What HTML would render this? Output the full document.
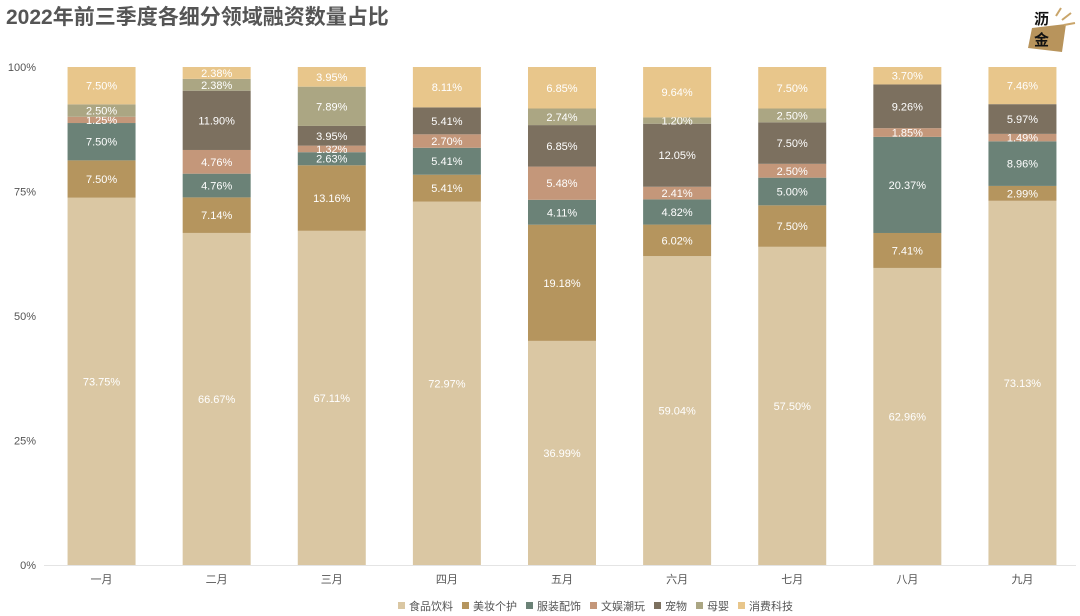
<!DOCTYPE html>
<html><head><meta charset="utf-8"><style>
body{margin:0;background:#fff;font-family:"Liberation Sans","Noto Sans CJK SC",sans-serif;}
#wrap{position:relative;width:1080px;height:616px;overflow:hidden}
</style></head><body>
<div id="wrap">
<svg id="chart" width="1080" height="616" xmlns="http://www.w3.org/2000/svg">
<text x="6" y="24" font-size="21" font-weight="bold" fill="#555" font-family="Liberation Sans,Noto Sans CJK SC,sans-serif">2022年前三季度各细分领域融资数量占比</text>
<g>
<polygon points="1032,28 1066,24 1062,52 1028,48" fill="#b8945c"/>
<line x1="1056" y1="16" x2="1061" y2="8" stroke="#c9a56a" stroke-width="2"/>
<line x1="1062" y1="20" x2="1071" y2="13" stroke="#c9a56a" stroke-width="2"/>
<line x1="1064" y1="25" x2="1075" y2="23" stroke="#c9a56a" stroke-width="2"/>
<text x="1034" y="24" font-size="15" font-weight="bold" fill="#111" font-family="Noto Sans CJK SC,sans-serif">沥</text>
<text x="1034" y="45" font-size="15" font-weight="bold" fill="#111" font-family="Noto Sans CJK SC,sans-serif">金</text>
</g>
</svg>
</div>
<script>
const categories=["一月","二月","三月","四月","五月","六月","七月","八月","九月"];
const seriesNames=["食品饮料","美妆个护","服装配饰","文娱潮玩","宠物","母婴","消费科技"];
const food=[73.75,66.67,67.11,72.97,36.99,59.04,57.50,62.96,73.13];
const beauty=[7.50,7.14,13.16,5.41,19.18,6.02,7.50,7.41,2.99];
const apparel=[7.50,4.76,2.63,5.41,4.11,4.82,5.00,20.37,8.96];
const toys=[1.25,4.76,1.32,2.70,5.48,2.41,2.50,1.85,1.49];
const pets=[0,11.90,3.95,5.41,6.85,12.05,7.50,9.26,5.97];
const baby=[2.50,2.38,7.89,0,2.74,1.20,2.50,0,0];
const tech=[7.50,2.38,3.95,8.11,6.85,9.64,7.50,3.70,7.46];
const yTicks=["0%","25%","50%","75%","100%"];
const series=[food,beauty,apparel,toys,pets,baby,tech];
const colors=["#dac7a3","#b5955e","#6b8277","#c4977a","#7c705f","#aba683","#e8c68b"];
const ns="http://www.w3.org/2000/svg";
const svg=document.getElementById('chart');
const y0=565,y1=67,x0=44,x1=1080;
const yScale=p=>y0-(y0-y1)*p/100;
const band=(x1-x0)/categories.length;
const xCenter=i=>x0+band*(i+0.5);
const bw=68;
function mk(tag,attrs,parent){const e=document.createElementNS(ns,tag);for(const k in attrs)e.setAttribute(k,attrs[k]);(parent||svg).appendChild(e);return e;}
yTicks.forEach((t,i)=>{
  const tx=mk('text',{x:36,y:yScale(i*25)+4,'font-size':11,fill:'#555','text-anchor':'end'});
  
  
  tx.textContent=t;
});
const axis=mk('line',{x1:x0,x2:x1-4,y1:y0+0.5,y2:y0+0.5,stroke:'#e4e4e4'});


categories.forEach((c,i)=>{
  const total=series.reduce((s,a)=>s+a[i],0);
  let cum=0;
  series.forEach((arr,k)=>{
    const v=arr[i];if(v<=0)return;
    const ya=yScale(cum/total*100),yb=yScale((cum+v)/total*100);
    const r=mk('rect',{x:xCenter(i)-bw/2,y:yb,width:bw,height:ya-yb,fill:colors[k]});
    
    
    const t=mk('text',{x:xCenter(i),y:(ya+yb)/2+4,'font-size':11,fill:'#fff','text-anchor':'middle'});
    
    
    t.textContent=v.toFixed(2)+'%';
    cum+=v;
  });
  const xl=mk('text',{x:xCenter(i),y:583,'font-size':11,fill:'#555','text-anchor':'middle'});
  
  
  xl.textContent=c;
});
let lx=398;
seriesNames.forEach((n,k)=>{
  const g=mk('g',{});
  
  
  mk('rect',{x:lx,y:602,width:7,height:7,fill:colors[k]},g);
  const t=mk('text',{x:lx+11,y:610,'font-size':11,fill:'#555'},g);
  t.textContent=n;
  lx+=11+n.length*11+9;
});
</script>
</body></html>
